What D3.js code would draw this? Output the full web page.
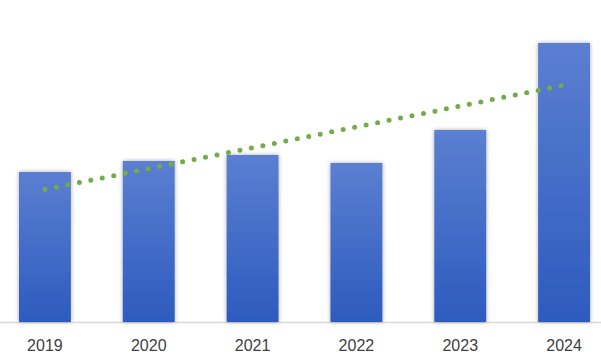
<!DOCTYPE html>
<html>
<head>
<meta charset="utf-8">
<script src="https://cdn.jsdelivr.net/npm/d3@7"></script>
<style>
  body { margin: 0; background: #fff; }
  svg { display: block; }
</style>
</head>
<body>
<script>
// data
var years = ["2019", "2020", "2021", "2022", "2023", "2024"];
var values = [15.0, 16.1, 16.7, 15.9, 19.2, 27.9];

var w = 601;
var h = 361;
var baseY = 322;

var svg = d3.select("body")
            .append("svg")
            .attr("width", w)
            .attr("height", h);

var defs = svg.append("defs");
var grad = defs.append("linearGradient")
   .attr("id", "barGrad")
   .attr("x1", 0).attr("y1", 0).attr("x2", 0).attr("y2", 1);
grad.append("stop").attr("offset", "0%").attr("stop-color", "#5B7FD1");
grad.append("stop").attr("offset", "100%").attr("stop-color", "#2D5BBE");

var shadow = defs.append("filter")
   .attr("id", "shadow")
   .attr("x", "-20%").attr("y", "-10%").attr("width", "140%").attr("height", "120%");
shadow.append("feGaussianBlur").attr("in", "SourceAlpha").attr("stdDeviation", 2);
shadow.append("feOffset").attr("dx", 0).attr("dy", 0).attr("result", "blur");
shadow.append("feComponentTransfer").append("feFuncA").attr("type", "linear").attr("slope", 0.35);
var merge = shadow.append("feMerge");
merge.append("feMergeNode");
merge.append("feMergeNode").attr("in", "SourceGraphic");

var x = d3.scaleBand()
          .domain(years)
          .range([-7, 616])
          .paddingInner(0.5)
          .paddingOuter(0.25);

var y = d3.scaleLinear()
          .domain([0, 30])
          .range([baseY, 22]);

// axis baseline
svg.append("line")
   .attr("x1", 0).attr("x2", w)
   .attr("y1", baseY + 0.5).attr("y2", baseY + 0.5)
   .attr("stroke", "#D9D9D9")
   .attr("stroke-width", 1.5);

svg.selectAll("rect.bar")
   .data(values)
   .enter()
   .append("rect")
   .attr("class", "bar")
   .attr("x", function(d, i) { return x(years[i]); })
   .attr("y", function(d) { return y(d); })
   .attr("width", x.bandwidth())
   .attr("height", function(d) { return baseY - y(d); })
   .attr("fill", "url(#barGrad)")
   .attr("filter", "url(#shadow)");

// linear trendline (least squares)
var n = values.length;
var mx = d3.mean(d3.range(n));
var my = d3.mean(values);
var sxy = d3.sum(values, function(d, i) { return (i - mx) * (d - my); });
var sxx = d3.sum(d3.range(n), function(i) { return (i - mx) * (i - mx); });
var slope = sxy / sxx;
var icpt = my - slope * mx;

var trend = years.map(function(yr, i) {
  return [x(yr) + x.bandwidth() / 2, y(icpt + slope * i)];
});

svg.append("path")
   .attr("d", d3.line()(trend))
   .attr("fill", "none")
   .attr("stroke", "#70AD47")
   .attr("stroke-width", 5)
   .attr("stroke-linecap", "round")
   .attr("stroke-dasharray", "0 11.7");

// category labels
svg.selectAll("text.lbl")
   .data(years)
   .enter()
   .append("text")
   .attr("class", "lbl")
   .attr("x", function(d) { return x(d) + x.bandwidth() / 2; })
   .attr("y", 351)
   .attr("text-anchor", "middle")
   .attr("font-family", "'Liberation Sans', Arial, sans-serif")
   .attr("font-size", "16px")
   .attr("fill", "#404040")
   .text(function(d) { return d; });
</script>
</body>
</html>
